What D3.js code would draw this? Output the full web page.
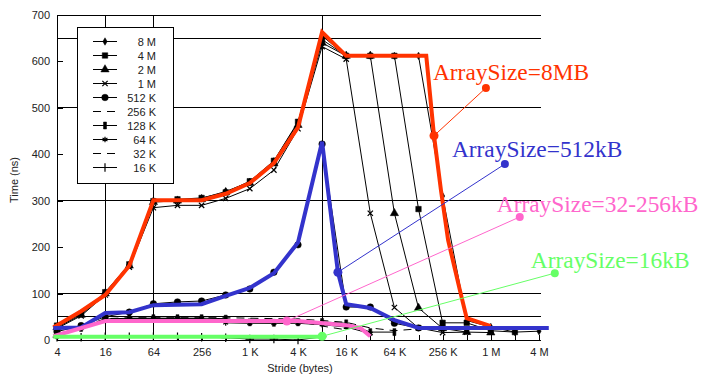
<!DOCTYPE html>
<html>
<head>
<meta charset="utf-8">
<script src="https://cdn.jsdelivr.net/npm/d3@7"></script>
<style>
  body { margin: 0; background: #fff; }
  svg { display: block; }
</style>
</head>
<body>
<div id="chart"></div>
<script>
const K = 1024, M = 1024 * 1024;

// x: stride in bytes, 4 .. 4M
const strides = [4, 8, 16, 32, 64, 128, 256, 512, 1 * K, 2 * K, 4 * K, 8 * K, 16 * K, 32 * K,
  64 * K, 128 * K, 256 * K, 512 * K, 1 * M, 2 * M, 4 * M];
const xTickValues = [4, 16, 64, 256, 1 * K, 4 * K, 16 * K, 64 * K, 256 * K, 1 * M, 4 * M];
const xTickLabels = ["4", "16", "64", "256", "1 K", "4 K", "16 K", "64 K", "256 K", "1 M", "4 M"];
const xGridValues = [16, 64, 8 * K];
const yTickValues = [0, 100, 200, 300, 400, 500, 600, 700];
const yGridValues = [0, 50, 100, 300, 500, 650, 700];

// time (ns) per array size, one value per stride (stride runs up to size/2)
const seriesNames = ["8 M", "4 M", "2 M", "1 M", "512 K", "256 K", "128 K", "64 K", "32 K", "16 K"];
const time8M = [28, 57, 100, 162, 300, 300, 305, 320, 340, 385, 468, 655, 612, 612, 612, 612, 310, 42, 28, 17, 19];
const time4M = [31, 56, 103, 163, 299, 303, 306, 318, 342, 386, 470, 647, 612, 612, 612, 282, 37, 37, 20, 17];
const time2M = [27, 54, 100, 160, 297, 300, 303, 318, 338, 380, 463, 640, 612, 612, 273, 69, 25, 17, 16];
const time1M = [25, 52, 97, 157, 285, 290, 290, 305, 326, 366, 455, 632, 605, 273, 70, 26, 16, 17];
const time512K = [18, 31, 50, 60, 78, 82, 84, 97, 110, 146, 205, 422, 71, 71, 36, 26, 26];
const time256K = [12, 28, 46, 48, 48, 48, 48, 48, 47, 46, 45, 42, 38, 26, 20, 24];
const time128K = [10, 26, 45, 47, 47, 47, 47, 46, 38, 37, 38, 39, 36, 17, 17];
const time64K = [10, 25, 44, 46, 46, 46, 46, 37, 36, 36, 36, 33, 28, 14];
const time32K = [9, 24, 43, 45, 45, 45, 45, 44, 42, 41, 40, 30, 22];
const time16K = [6, 6, 7, 7, 7, 7, 6, 5, 2, 2, 0, 7];
const seriesValues = [time8M, time4M, time2M, time1M, time512K, time256K, time128K, time64K, time32K, time16K];

// hand-drawn highlight curves [stride, ns]
const highlight8MB = [[3.6, 27], [8, 62], [16, 97], [32, 160], [64, 301], [256, 301], [512, 315], [1 * K, 338],
  [2 * K, 381], [4 * K, 458], [8 * K, 663], [16 * K, 612], [160 * K, 612], [200 * K, 440], [244 * K, 323],
  [300 * K, 215], [420 * K, 108], [512 * K, 47], [1 * M, 30]];
const highlight512kB = [[3.6, 26], [8, 27], [16, 58], [32, 60], [64, 75], [256, 77], [512, 95], [1 * K, 112],
  [2 * K, 144], [4 * K, 210], [8 * K, 427], [12.6 * K, 146], [16 * K, 77], [32 * K, 69], [64 * K, 43],
  [128 * K, 26], [5.3 * M, 26]];
const highlight32_256kB = [[3.6, 8], [16, 41], [4 * K, 41], [16 * K, 32], [24 * K, 26], [32 * K, 8]];
const highlight16kB = [[3.6, 7], [8 * K, 7]];

const annotationTexts = ["ArraySize=8MB", "ArraySize=512kB", "ArraySize=32-256kB", "ArraySize=16kB"];
const annotationFrom = [[200 * K, 440], [12.6 * K, 146], [2.9 * K, 41], [8 * K, 8]];
const annotationTo = [[890 * K, 543], [1.5 * M, 379], [2.3 * M, 265], [6.3 * M, 144]];

const colorPalette = {
  black: "#000",
  text: "#222",
  red: "#ff3300",
  blue: "#3333cc",
  pink: "#ff66cc",
  green: "#66ff66",
};
const highlightColors = [colorPalette.red, colorPalette.blue, colorPalette.pink, colorPalette.green];
const highlights = [highlight8MB, highlight512kB, highlight32_256kB, highlight16kB];

const config = {
  width: 704,
  height: 376,
  left: 57,
  right: 539,
  plotRight: 541,
  top: 15,
  bottom: 340,
  font: "'Liberation Sans', Arial, sans-serif",
  serif: "'Liberation Serif', 'Times New Roman', serif",
  labelOffsets: [[-53, -8], [-53, -7], [-23, -5], [-24, -5]],
  legend: { x: 77, y: 27, w: 96, h: 156, rowTop: 41.5, rowStep: 14, lineX1: 93, lineX2: 117, textX: 156 },
};

const bar = {
  draw(context) {
    context.rect(-1.5, -3.5, 3, 7);
  },
};
const markerStyle = {
  "8 M": { symbol: d3.symbolDiamond, size: 16, filled: true },
  "4 M": { symbol: d3.symbolSquare, size: 30, filled: true },
  "2 M": { symbol: d3.symbolTriangle, size: 30, filled: true },
  "1 M": { symbol: d3.symbolTimes, size: 20, filled: false },
  "512 K": { symbol: d3.symbolCircle, size: 34, filled: true },
  "256 K": { dash: "8,6" },
  "128 K": { symbol: bar, size: 1, filled: true },
  "64 K": { symbol: d3.symbolAsterisk, size: 22, filled: false },
  "32 K": { dash: "8,6" },
  "16 K": { symbol: d3.symbolPlus, size: 26, filled: false },
};

const svg = d3.select("#chart").append("svg")
  .attr("width", config.width)
  .attr("height", config.height);

const x = d3.scaleLog().base(2).domain([4, 4 * M]).range([config.left, config.right]);
const y = d3.scaleLinear().domain([0, 700]).range([config.bottom, config.top]);

// grid
svg.append("g").selectAll("line").data(yGridValues).enter().append("line")
  .attr("x1", config.left).attr("x2", config.plotRight)
  .attr("y1", (d) => y(d)).attr("y2", (d) => y(d))
  .attr("stroke", colorPalette.black).attr("stroke-width", 1)
  .attr("shape-rendering", "crispEdges");
svg.append("g").selectAll("line").data(xGridValues).enter().append("line")
  .attr("x1", (d) => x(d)).attr("x2", (d) => x(d))
  .attr("y1", config.top).attr("y2", config.bottom)
  .attr("stroke", colorPalette.black).attr("stroke-width", 1)
  .attr("shape-rendering", "crispEdges");
svg.append("line")
  .attr("x1", config.left).attr("x2", config.left)
  .attr("y1", config.top).attr("y2", config.bottom)
  .attr("stroke", colorPalette.black).attr("shape-rendering", "crispEdges");

// axes (ticks point inward)
const xAxis = d3.axisBottom(x).tickValues(strides).tickSize(-5).tickPadding(8)
  .tickFormat((d) => {
    const i = xTickValues.indexOf(d);
    return i >= 0 ? xTickLabels[i] : "";
  });
const gx = svg.append("g").attr("transform", `translate(0,${config.bottom})`).call(xAxis);
const yAxis = d3.axisLeft(y).tickValues(yTickValues).tickSize(-6).tickPadding(7);
const gy = svg.append("g").attr("transform", `translate(${config.left},0)`).call(yAxis);
[gx, gy].forEach((g) => {
  g.select(".domain").remove();
  g.selectAll(".tick line").attr("stroke", colorPalette.black).attr("shape-rendering", "crispEdges");
  g.selectAll(".tick text").style("font-family", config.font).style("font-size", "11px")
    .attr("fill", colorPalette.text);
});

svg.append("text").text("Stride (bytes)")
  .attr("x", 300).attr("y", 372).attr("text-anchor", "middle")
  .style("font-family", config.font).style("font-size", "11px").attr("fill", colorPalette.text);
svg.append("text").text("Time (ns)")
  .attr("transform", "translate(18,180) rotate(-90)").attr("text-anchor", "middle")
  .style("font-family", config.font).style("font-size", "11px").attr("fill", colorPalette.text);

// black measured series
const line = d3.line().x((d) => x(d[0])).y((d) => y(d[1]));
function drawMarker(g, name, px, py) {
  const st = markerStyle[name];
  if (!st.symbol) return;
  g.append("path")
    .attr("d", d3.symbol().type(st.symbol).size(st.size)())
    .attr("transform", `translate(${px},${py})`)
    .attr("fill", st.filled ? colorPalette.black : "none")
    .attr("stroke", colorPalette.black)
    .attr("stroke-width", st.filled ? 0.5 : 1.2);
}
const gSeries = svg.append("g");
seriesNames.forEach((name, si) => {
  const pts = seriesValues[si].map((v, i) => [strides[i], v]);
  gSeries.append("path").attr("d", line(pts))
    .attr("fill", "none").attr("stroke", colorPalette.black).attr("stroke-width", 1)
    .attr("stroke-dasharray", markerStyle[name].dash || null);
  pts.forEach((p) => drawMarker(gSeries, name, x(p[0]), y(p[1])));
});

// highlight curves
highlights.forEach((h, i) => {
  svg.append("path").attr("d", line(h))
    .attr("fill", "none").attr("stroke", highlightColors[i]).attr("stroke-width", 4);
});

// annotations
annotationTexts.forEach((t, i) => {
  const c = highlightColors[i];
  const a = annotationFrom[i], b = annotationTo[i];
  svg.append("line")
    .attr("x1", x(a[0])).attr("y1", y(a[1])).attr("x2", x(b[0])).attr("y2", y(b[1]))
    .attr("stroke", c).attr("stroke-width", 1);
  svg.append("circle").attr("cx", x(a[0])).attr("cy", y(a[1])).attr("r", 4.5).attr("fill", c);
  svg.append("circle").attr("cx", x(b[0])).attr("cy", y(b[1])).attr("r", 4).attr("fill", c);
  svg.append("text").text(t)
    .attr("x", x(b[0]) + config.labelOffsets[i][0]).attr("y", y(b[1]) + config.labelOffsets[i][1])
    .style("font-family", config.serif).style("font-size", "23.4px").attr("fill", c);
});

// legend
const lg = config.legend;
const gLegend = svg.append("g").attr("class", "legend");
gLegend.append("rect")
  .attr("x", lg.x + 0.5).attr("y", lg.y + 0.5).attr("width", lg.w).attr("height", lg.h)
  .attr("fill", "#fff").attr("stroke", colorPalette.black).attr("stroke-width", 1);
seriesNames.forEach((name, i) => {
  const ry = lg.rowTop + i * lg.rowStep;
  gLegend.append("line")
    .attr("x1", lg.lineX1).attr("x2", lg.lineX2).attr("y1", ry).attr("y2", ry)
    .attr("stroke", colorPalette.black).attr("stroke-width", 1)
    .attr("stroke-dasharray", markerStyle[name].dash || null);
  drawMarker(gLegend, name, (lg.lineX1 + lg.lineX2) / 2, ry);
  gLegend.append("text").text(name)
    .attr("x", lg.textX).attr("y", ry + 4).attr("text-anchor", "end")
    .style("font-family", config.font).style("font-size", "11px").attr("fill", colorPalette.text);
});
</script>
</body>
</html>
